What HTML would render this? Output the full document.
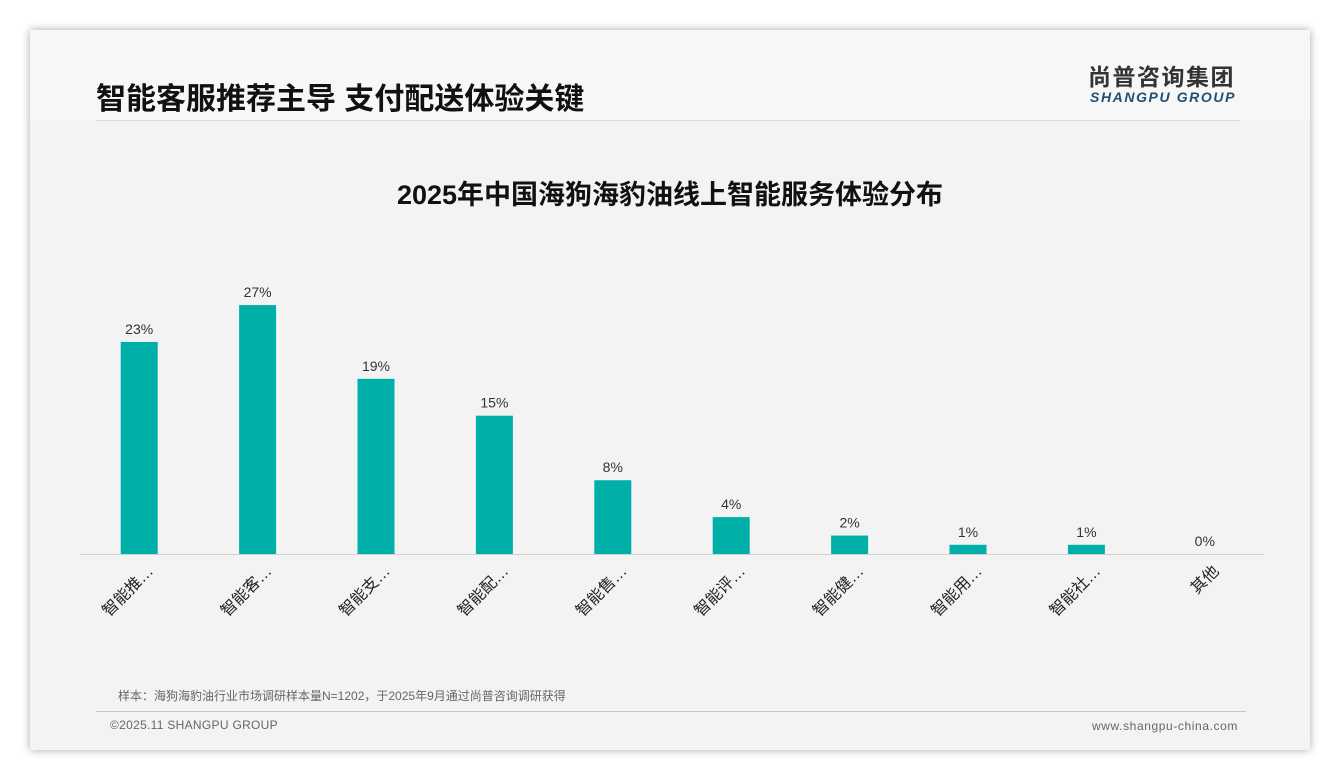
<!DOCTYPE html>
<html><head><meta charset="utf-8">
<style>
body{margin:0;width:1340px;height:780px;background:#fff;font-family:"Liberation Sans","Noto Sans CJK SC",sans-serif;position:relative;overflow:hidden}
#card{position:absolute;left:30px;top:30px;width:1280px;height:720px;background:#f3f3f3;box-shadow:0 0 8px rgba(0,0,0,0.35)}
#hdr{position:absolute;left:0;top:0;width:1280px;height:90px;background:#f7f7f7}
.t{position:absolute;white-space:nowrap;line-height:1}
</style></head><body>
<div id="card">
<div id="hdr"></div>
<div class="t" style="left:66px;top:55px;font-size:30px;font-weight:bold;color:#111">智能客服推荐主导 支付配送体验关键</div>
<div class="t" style="left:1058px;top:36px;font-size:23px;font-weight:bold;color:#333;letter-spacing:1.5px">尚普咨询集团</div>
<div class="t" style="left:1060px;top:60px;font-size:14px;font-weight:bold;font-style:italic;color:#1f4e79;letter-spacing:1.6px">SHANGPU GROUP</div>
<div style="position:absolute;left:66px;top:90px;width:1144px;height:1px;background:#ddd"></div>
<div class="t" style="left:0;width:1280px;text-align:center;top:152px;font-size:27px;font-weight:bold;color:#111">2025年中国海狗海豹油线上智能服务体验分布</div>
<div class="t" style="left:88px;top:660px;font-size:12px;color:#666">样本：海狗海豹油行业市场调研样本量N=1202，于2025年9月通过尚普咨询调研获得</div>
<div style="position:absolute;left:66px;top:681px;width:1150px;height:1px;background:#b8c8d8"></div>
<div class="t" style="left:80px;top:689px;font-size:12px;color:#666;letter-spacing:0.3px">©2025.11 SHANGPU GROUP</div>
<div class="t" style="left:1062px;top:690px;font-size:12px;color:#666;letter-spacing:0.6px">www.shangpu-china.com</div>
</div>
<svg id="chart" width="1340" height="780" style="position:absolute;left:0;top:0"></svg>
<script>
const categories=["智能推…","智能客…","智能支…","智能配…","智能售…","智能评…","智能健…","智能用…","智能社…","其他"];
const values=[23,27,19,15,8,4,2,1,1,0];
const valueLabels=["23%","27%","19%","15%","8%","4%","2%","1%","1%","0%"];
const svg=document.getElementById('chart');const NS='http://www.w3.org/2000/svg';
const x0=80,x1=1264,baseY=554,pxPer=9.22,bw=37;
const step=(x1-x0)/categories.length;
const xc=i=>x0+step*(i+0.5);
const yv=v=>baseY-v*pxPer;
function mk(t,a){const e=document.createElementNS(NS,t);for(const k in a)e.setAttribute(k,a[k]);svg.appendChild(e);return e;}
const ax=mk('line',{x1:x0,x2:x1,y1:baseY+0.5,y2:baseY+0.5,stroke:'#d0d0d0','stroke-width':1});


categories.forEach((c,i)=>{
 const cx=xc(i);
 const r=mk('rect',{x:cx-bw/2,y:yv(values[i]),width:bw,height:baseY-yv(values[i]),fill:'#00b0a8'});
 
 
 const t=mk('text',{x:cx,y:yv(values[i])-8,'text-anchor':'middle','font-size':14,fill:'#333','font-family':'Liberation Sans, sans-serif'});
 t.textContent=valueLabels[i];
 
 
 const l=mk('text',{x:cx+15,y:baseY+18,'text-anchor':'end','font-size':16,fill:'#222','font-family':'Liberation Sans, Noto Sans CJK SC, sans-serif',transform:`rotate(-45 ${cx+15} ${baseY+18})`});
 l.textContent=c;
 
 
});
</script>
</body></html>
